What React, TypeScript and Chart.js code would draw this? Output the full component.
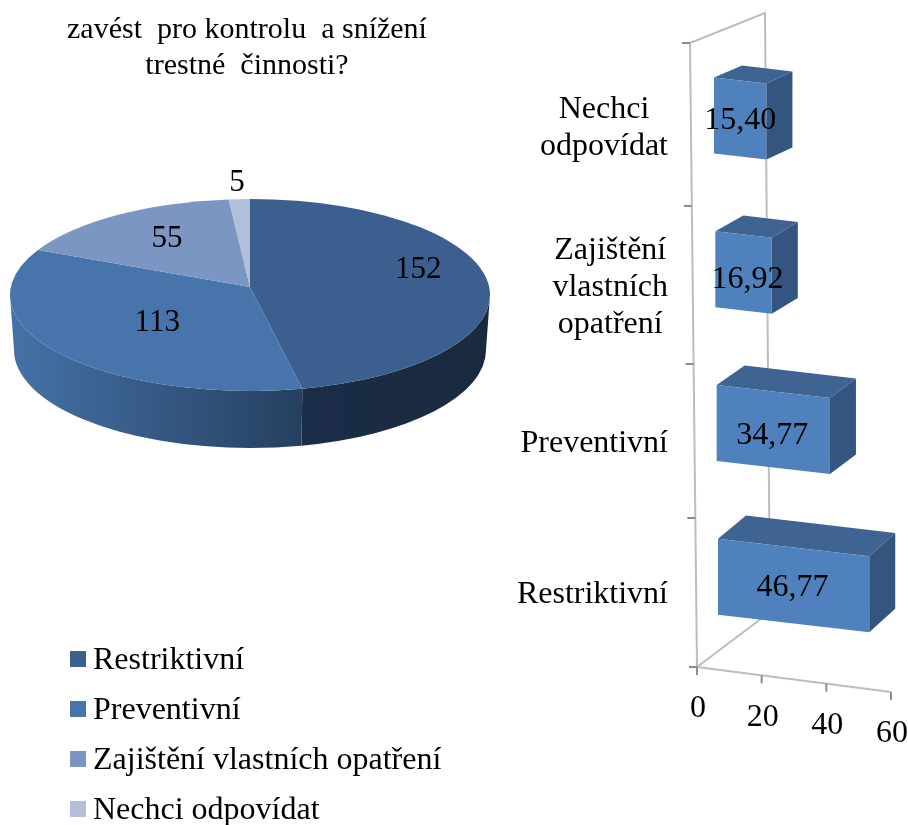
import React, { useEffect, useRef } from "react";
import { Chart, registerables } from "chart.js";

Chart.register(...registerables);

const pieCategories = ["Restriktivní", "Preventivní", "Zajištění vlastních opatření", "Nechci odpovídat"];
const pieValues = [152, 113, 55, 5];
const pieColors = ["#3C5F8F", "#4874AC", "#7B96C2", "#B1C0DA"];
const pieSideStart = ["#1B2C47", "#4672A8", "#7B96C2", "#B1C0DA"];
const pieSideEnd = ["#1A2A3E", "#25405F", "#7B96C2", "#B1C0DA"];
const pieLabelShiftX = [6, 34, 13, -5];
const pieLabelShiftY = [-19, -13, -3, -47];

const titleLines = ["zavést  pro kontrolu  a snížení", "trestné  činnosti?"];

const barCategories = [["Restriktivní"], ["Preventivní"], ["Zajištění", "vlastních", "opatření"], ["Nechci", "odpovídat"]];
const barValues = [46.77, 34.77, 16.92, 15.4];
const barValueLabels = ["46,77", "34,77", "16,92", "15,40"];
const barLabelShiftX = [-1, -1, 4, 0];
const barLabelShiftY = [-1, 3, 4, -1];
const barCategoryShiftY = [18, 21, 18, 13];
const xTicks = [0, 20, 40, 60];

const SERIF = '"Liberation Serif", "Times New Roman", serif';
const W = 908;
const H = 825;

const top3d = { cx: 250, cy: 295, rx: 240, ry: 96, tip: 287 };
const low3d = { cx: 250, cy: 350, rx: 236, ry: 98 };

// A slice edge leaves the tip (which sits above the ellipse centre in perspective)
// and meets the rim: returns the ellipse parameter of that meeting point.
function rimAngle(a: number) {
  const { ry, cy, tip } = top3d;
  const o = (tip - cy) / ry;
  const ux = Math.cos(a);
  const uy = Math.sin(a);
  const A = ux * ux + uy * uy;
  const B = 2 * o * uy;
  const C = o * o - 1;
  const t = (-B + Math.sqrt(B * B - 4 * A * C)) / (2 * A);
  const p = Math.atan2(o + uy * t, ux * t);
  // keep the parameter on the same turn as the input angle
  const turn = Math.round((a - p) / (2 * Math.PI));
  return p + turn * 2 * Math.PI;
}

const piePlugin = {
  id: "pie3d",
  beforeDatasetDraw(chart: any) {
    const ctx = chart.ctx;
    const arcs = chart.getDatasetMeta(0).data;
    const top = top3d;
    const low = low3d;
    ctx.save();
    arcs.forEach((arc: any, i: number) => {
      const a0 = Math.max(rimAngle(arc.startAngle), 0);
      const a1 = Math.min(rimAngle(arc.endAngle), Math.PI);
      if (a1 <= a0) return;
      const x0 = top.cx + top.rx * Math.cos(a1);
      const x1 = top.cx + top.rx * Math.cos(a0);
      const g = ctx.createLinearGradient(x0, 0, x1, 0);
      g.addColorStop(0, pieSideStart[i]);
      g.addColorStop(1, pieSideEnd[i]);
      ctx.beginPath();
      ctx.ellipse(top.cx, top.cy, top.rx, top.ry, 0, a0, a1);
      ctx.lineTo(low.cx + low.rx * Math.cos(a1), low.cy + low.ry * Math.sin(a1));
      ctx.ellipse(low.cx, low.cy, low.rx, low.ry, 0, a1, a0, true);
      ctx.closePath();
      ctx.fillStyle = g;
      ctx.fill();
    });
    arcs.forEach((arc: any, i: number) => {
      ctx.beginPath();
      ctx.moveTo(top.cx, top.tip);
      ctx.ellipse(top.cx, top.cy, top.rx, top.ry, 0, rimAngle(arc.startAngle), rimAngle(arc.endAngle));
      ctx.closePath();
      ctx.fillStyle = pieColors[i];
      ctx.fill();
    });
    ctx.fillStyle = "#000";
    ctx.font = `31px ${SERIF}`;
    ctx.textAlign = "center";
    ctx.textBaseline = "middle";
    arcs.forEach((arc: any, i: number) => {
      const mid = (arc.startAngle + arc.endAngle) / 2;
      const x = top.cx + 0.68 * top.rx * Math.cos(mid) + pieLabelShiftX[i];
      const y = top.cy + 0.68 * top.ry * Math.sin(mid) + pieLabelShiftY[i];
      ctx.fillText(String(pieValues[i]), x, y);
    });
    ctx.restore();
    return false;
  },
  afterDraw(chart: any) {
    const ctx = chart.ctx;
    ctx.save();
    ctx.fillStyle = "#000";
    ctx.textBaseline = "alphabetic";
    ctx.font = `30px ${SERIF}`;
    ctx.textAlign = "center";
    titleLines.forEach((line, i) => ctx.fillText(line, 247, 38 + i * 36));
    ctx.textAlign = "left";
    ctx.font = `32px ${SERIF}`;
    chart.data.labels.forEach((label: string, i: number) => {
      ctx.fillStyle = pieColors[i];
      ctx.fillRect(70, 651 + i * 50, 16, 16);
      ctx.fillStyle = "#000";
      ctx.fillText(label, 93, 669 + i * 50);
    });
    ctx.restore();
  },
};

const barPlugin = {
  id: "bar3d",
  beforeDatasetDraw(chart: any) {
    const ctx = chart.ctx;
    const xs = chart.scales.x;
    const ys = chart.scales.y;
    const x0 = xs.getPixelForValue(0);
    const floorY = (x: number) => 667 + 0.129 * (x - x0);
    ctx.save();
    // walls and floor
    ctx.strokeStyle = "#BDBDBD";
    ctx.lineWidth = 2;
    ctx.beginPath();
    ctx.moveTo(x0, 667);
    ctx.lineTo(690, 43);
    ctx.lineTo(765, 13);
    ctx.lineTo(770, 612);
    ctx.lineTo(x0, 667);
    ctx.moveTo(x0, 667);
    ctx.lineTo(xs.getPixelForValue(60), floorY(xs.getPixelForValue(60)));
    ctx.stroke();
    // ticks
    ctx.strokeStyle = "#8C8C8C";
    [43, 206, 364, 518, 667].forEach((y) => {
      const xw = x0 - (667 - y) * (7 / 624);
      ctx.beginPath();
      ctx.moveTo(xw - 8, y);
      ctx.lineTo(xw, y);
      ctx.stroke();
    });
    ctx.fillStyle = "#000";
    ctx.font = `32px ${SERIF}`;
    ctx.textAlign = "center";
    ctx.textBaseline = "middle";
    xTicks.forEach((v) => {
      const x = xs.getPixelForValue(v);
      ctx.beginPath();
      ctx.moveTo(x, floorY(x));
      ctx.lineTo(x, floorY(x) + 8);
      ctx.stroke();
      ctx.fillText(String(v), x + 1, floorY(x) + 42);
    });
    // category labels
    barCategories.forEach((lines, i) => {
      const cy = ys.getPixelForValue(i) + barCategoryShiftY[i];
      const maxW = Math.max(...lines.map((l) => ctx.measureText(l).width));
      lines.forEach((line, k) => {
        ctx.fillText(line, 668 - maxW / 2, cy + (k - (lines.length - 1) / 2) * 37);
      });
    });
    // bars, drawn from the bar elements
    const bars = chart.getDatasetMeta(0).data;
    bars.map((b: any, i: number) => ({ b, i }))
      .sort((p: any, q: any) => p.b.y - q.b.y)
      .forEach(({ b, i }: any) => {
        const xl = b.base + 21 + (b.y - 577) * 0.0087;
        const xr = b.x + 21 - (577 - b.y) * 0.003;
        const h = b.height;
        const tilt = (xr - xl) * 0.115;
        const tl = b.y - h / 2;
        const bl = b.y + h / 2;
        const dy = -(12 + (b.y - 115) * 0.0245);
        const poly = (pts: number[][], fill: string) => {
          ctx.beginPath();
          pts.forEach((p, k) => (k ? ctx.lineTo(p[0], p[1]) : ctx.moveTo(p[0], p[1])));
          ctx.closePath();
          ctx.fillStyle = fill;
          ctx.fill();
        };
        poly([[xl, tl], [xr, tl + tilt], [xr + 26, tl + tilt + dy], [xl + 28, tl + dy]], "#3F6491");
        poly([[xr, tl + tilt], [xr + 26, tl + tilt + dy], [xr + 26, bl + tilt + dy], [xr, bl + tilt]], "#345580");
        poly([[xl, tl], [xr, tl + tilt], [xr, bl + tilt], [xl, bl]], "#4F81BD");
        ctx.fillStyle = "#000";
        ctx.fillText(barValueLabels[i], (xl + xr) / 2 + barLabelShiftX[i], b.y + tilt / 2 + 3 + barLabelShiftY[i]);
      });
    ctx.restore();
    return false;
  },
};

export default function App() {
  const pieRef = useRef<HTMLCanvasElement>(null);
  const barRef = useRef<HTMLCanvasElement>(null);

  useEffect(() => {
    const pie = new Chart(pieRef.current as HTMLCanvasElement, {
      type: "pie",
      data: {
        labels: pieCategories,
        datasets: [{ data: pieValues, backgroundColor: pieColors, borderWidth: 0 }],
      },
      options: {
        responsive: false,
        animation: false,
        plugins: { legend: { display: false }, tooltip: { enabled: false } },
      },
      plugins: [piePlugin],
    } as any);

    const bar = new Chart(barRef.current as HTMLCanvasElement, {
      type: "bar",
      data: {
        labels: barCategories,
        datasets: [{ data: barValues, backgroundColor: "#4F81BD", barPercentage: 0.494, categoryPercentage: 1 }],
      },
      options: {
        indexAxis: "y",
        responsive: false,
        animation: false,
        layout: { padding: { left: 697, right: W - 891, top: 38.5, bottom: H - 653.7 } },
        scales: {
          x: { display: false, min: 0, max: 60 },
          y: { display: false, reverse: true },
        },
        plugins: { legend: { display: false }, tooltip: { enabled: false } },
      },
      plugins: [barPlugin],
    } as any);

    return () => {
      pie.destroy();
      bar.destroy();
    };
  }, []);

  const style: React.CSSProperties = { position: "absolute", left: 0, top: 0, width: W, height: H };
  return (
    <div style={{ position: "absolute", left: 0, top: 0, width: W, height: H, background: "#fff", overflow: "hidden" }}>
      <canvas ref={pieRef} width={W} height={H} style={style} />
      <canvas ref={barRef} width={W} height={H} style={style} />
    </div>
  );
}
